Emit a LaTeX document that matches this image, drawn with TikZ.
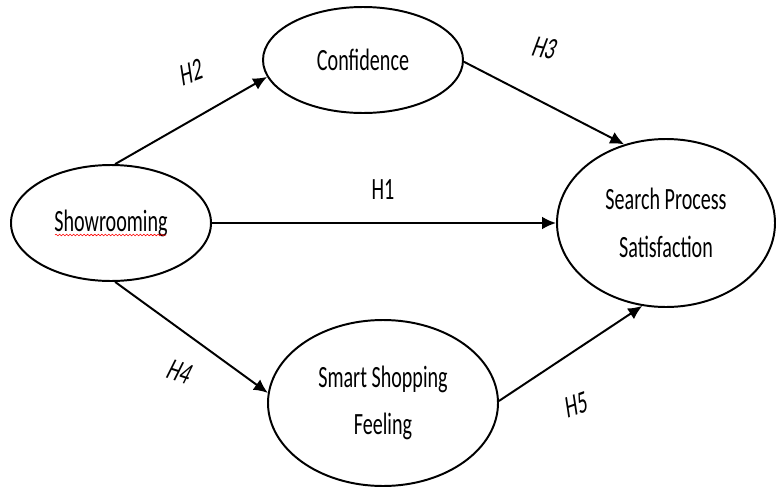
\documentclass[tikz,border=0pt]{standalone}
\usepackage{fontspec}
\setmainfont{Carlito}[FakeStretch=0.65]
\usetikzlibrary{positioning,shapes.geometric,arrows.meta,decorations.pathmorphing}

\begin{document}
\begin{tikzpicture}[node distance=6cm,on grid,line width=1.4pt,
  var/.style={draw,ellipse,inner sep=0pt,align=center,font=\fontsize{22}{34}\selectfont},
  hyp/.style={font=\fontsize{22}{26}\selectfont},
  >={Latex[length=3.5mm,width=3.2mm]}]
 \useasboundingbox (-2.775,-6.625) rectangle (16.625,5.575);
 \node[var,minimum width=5cm,minimum height=2.9cm]	 (Show) at (0:0) {Showrooming};
 \node[var,minimum width=5cm,minimum height=2.65cm]	 (Conf) [above right=4.075cm and 6.3cm of Show] {Confidence};
 \node[var,minimum width=5.45cm,minimum height=4.2cm]	 (SPS)  [right=13.875cm of Show] {Search Process\\Satisfaction};
 \node[var,minimum width=5.75cm,minimum height=4.15cm] (SSF)  [below right=4.5cm and 6.8cm of Show] {Smart Shopping\\Feeling};
 \node[hyp,rotate=20,xslant=0.2]   (H2) at (2.025,3.775)  {H2};
 \node[hyp,rotate=-12,xslant=0.15] (H3) at (10.85,4.375)  {H3};
 \node[hyp]                        (H1) at (6.8,0.825)    {H1};
 \node[hyp,rotate=-18,xslant=0.15] (H4) at (1.725,-3.725) {H4};
 \node[hyp,rotate=20,xslant=0.2]   (H5) at (11.65,-4.55)  {H5};
\path[->]
 (Show.86)  edge (Conf.190)
 (Conf.-1)  edge (SPS.118)
 (Show.east) edge (SPS.west)
 (Show.-86) edge (SSF.175)
 (SSF.1)    edge (SPS.254)
;
% spell-check squiggle
 \draw[red,line width=0.4pt,decorate,decoration={snake,amplitude=0.6pt,segment length=2.5pt}]
  ([shift={(-1.4,-0.3)}]Show.center) -- ([shift={(1.375,-0.3)}]Show.center);
\end{tikzpicture}
\end{document}
